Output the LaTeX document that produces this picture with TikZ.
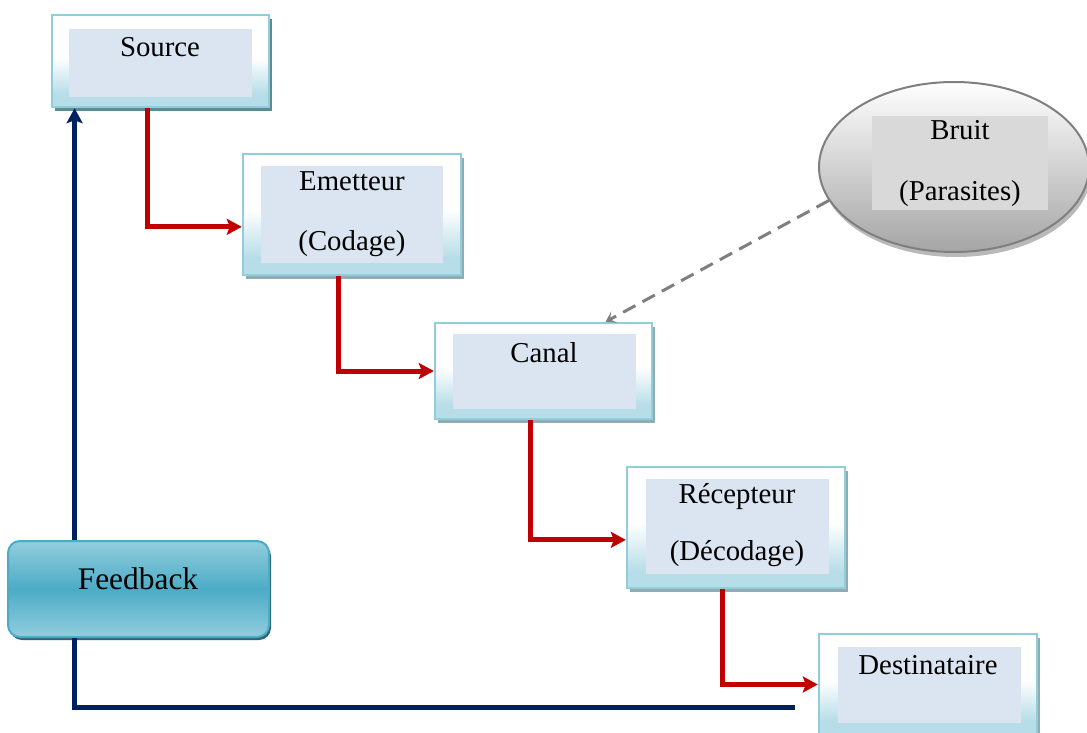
\documentclass[tikz,border=0pt]{standalone}
\usepackage{fontspec}
\setmainfont{Liberation Serif}
\usetikzlibrary{arrows.meta,calc,fit,shapes.geometric}

\definecolor{boxline}{HTML}{92CDDC}
\definecolor{boxblue}{HTML}{B7DDE8}
\definecolor{innerfill}{HTML}{DBE5F1}
\definecolor{shadowdark}{HTML}{5E8A93}
\definecolor{shadowlight}{HTML}{8FABB3}
\definecolor{flowred}{HTML}{C00000}
\definecolor{navy}{HTML}{002060}
\definecolor{fbmid}{HTML}{4BACC6}
\definecolor{fbedge}{HTML}{93CDDD}
\definecolor{fbshadow}{HTML}{2E6572}
\definecolor{noisegray}{HTML}{7F7F7F}
\definecolor{noiseinner}{HTML}{D9D9D9}
\definecolor{noisebottom}{HTML}{A5A5A5}

% white upper half fading into light blue towards the bottom
\pgfdeclareverticalshading{stageshade}{100bp}{color(0bp)=(boxblue); color(32bp)=(boxblue); color(52bp)=(white); color(100bp)=(white)}

\begin{document}
\begin{tikzpicture}[x=0.5pt,y=-0.5pt,
  stagebox/.style={draw=boxline, line width=1.2pt, shading=stageshade, inner sep=0pt},
  stageinner/.style={fill=innerfill, draw=none, inner sep=0pt},
  lbl/.style={anchor=base, inner sep=0pt, font=\fontsize{14.4}{17}\selectfont},
  flow/.style={draw=flowred, line width=2.5pt, -{Stealth[length=7.5pt,width=8pt,inset=1.5pt]}},
  backline/.style={draw=navy, line width=2.5pt},
  noiselink/.style={draw=noisegray, line width=1.5pt, dash pattern=on 7pt off 4pt,
    -{Stealth[length=5pt,width=6.5pt,inset=2.5pt]}},
]
\useasboundingbox (0,0) rectangle (1087,733);

% ---- shadows
\fill[shadowdark]  (55,19)   rectangle (272,111);
\fill[shadowlight] (246,158) rectangle (464,279);
\fill[shadowlight] (438,327) rectangle (655,423);
\fill[shadowlight] (630,471) rectangle (848,592);
\fill[shadowlight] (822,638) rectangle (1040,739);
\fill[gray!55] (956,172) ellipse [x radius=135, y radius=85];
\fill[fbshadow, rounded corners=6pt] (10,544) rectangle (271,640);

% ---- stage boxes
\node[stagebox, fit={(52,15) (269,107)}]   (src) {};
\node[stageinner, fit={(69,29) (252,97)}]  (srcin) {};
\node[lbl] (srctxt) at (160,57) {Source};

\node[stagebox, fit={(243,154) (461,275)}] (emet) {};
\node[stageinner, fit={(261,166) (443,263)}] (emetin) {};
\node[lbl] (emettxt) at (352,191) {Emetteur};
\node[lbl] (emettxtb) at (352,250) {(Codage)};

\node[stagebox, fit={(435,323) (652,419)}] (canal) {};
\node[stageinner, fit={(453,334) (636,409)}] (canalin) {};
\node[lbl] (canaltxt) at (544,362) {Canal};

\node[stagebox, fit={(627,467) (845,588)}] (recep) {};
\node[stageinner, fit={(646,479) (829,574)}] (recepin) {};
\node[lbl] (receptxt) at (737,503) {Récepteur};
\node[lbl] (receptxtb) at (737,560) {(Décodage)};

\node[stagebox, fit={(819,634) (1037,735)}] (dest) {};
\node[stageinner, fit={(838,647) (1021,723)}] (destin) {};
\node[lbl] (desttxt) at (928,674) {Destinataire};

% ---- noise source
\node[ellipse, draw=noisegray, line width=1pt, top color=white, bottom color=noisebottom,
      minimum width=135pt, minimum height=85pt, inner sep=0pt] (bruit) at (954,167) {};
\node[fill=noiseinner, inner sep=0pt, fit={(872,116) (1048,210)}] (bruitin) {};
\node[lbl] (bruittxt) at (960,140) {Bruit};
\node[lbl] (bruittxtb) at (960,200) {(Parasites)};

% ---- feedback block
\node[draw=fbmid, line width=1pt, rounded corners=6pt, top color=fbedge, bottom color=fbedge,
      middle color=fbmid, inner sep=0pt, fit={(8,541) (269,637)}] (fb) {};
\node[lbl, font=\fontsize{15.7}{18}\selectfont] (fbtxt) at (138,589) {Feedback};

% ---- main chain
\draw[flow] ($(src.south west)!0.44!(src.south east)$)     |- ($(emet.north west)!0.6!(emet.south west)$);
\draw[flow] ($(emet.south west)!0.44!(emet.south east)$)   |- ($(canal.north west)!0.5!(canal.south west)$);
\draw[flow] ($(canal.south west)!0.44!(canal.south east)$) |- ($(recep.north west)!0.6!(recep.south west)$);
\draw[flow] ($(recep.south west)!0.44!(recep.south east)$) |- ($(dest.north west)!0.5!(dest.south west)$);

% ---- noise acting on the channel
\draw[noiselink] (bruit.195) -- ($(canal.north east)!0.217!(canal.north west)$);

% ---- feedback loop
\coordinate (fbup)   at ($(fb.north west)!0.257!(fb.north east)$);
\coordinate (fbdown) at ($(fb.south west)!0.257!(fb.south east)$);
\coordinate (fbend)  at (795,707);
\draw[backline, -{Stealth[length=7.5pt,width=8pt,inset=1.5pt]}] (fbup) -- (fbup |- src.south);
\draw[backline] (fbdown) |- (fbend);
\end{tikzpicture}
\end{document}
